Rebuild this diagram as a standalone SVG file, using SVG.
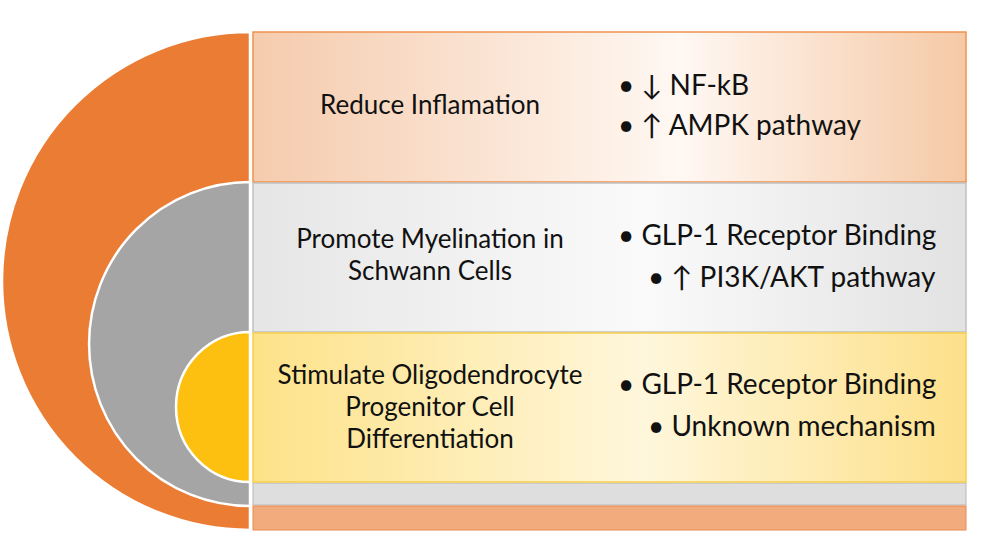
<svg xmlns="http://www.w3.org/2000/svg" width="986" height="552" viewBox="0 0 986 552">
<defs>
<linearGradient id="gO" x1="0" x2="1" y1="0" y2="0"><stop offset="0" stop-color="#f5cbad"/><stop offset="0.6" stop-color="#fff8f3"/><stop offset="1" stop-color="#f5c9a6"/></linearGradient>
<linearGradient id="gG" x1="0" x2="1" y1="0" y2="0"><stop offset="0" stop-color="#e6e6e6"/><stop offset="0.55" stop-color="#fafafa"/><stop offset="1" stop-color="#e2e2e2"/></linearGradient>
<linearGradient id="gY" x1="0" x2="1" y1="0" y2="0"><stop offset="0" stop-color="#fde288"/><stop offset="0.55" stop-color="#fff7dc"/><stop offset="1" stop-color="#fde08a"/></linearGradient>
</defs>
<style>
text{font-family:Lato,"Open Sans","Liberation Sans",sans-serif;font-size:26px;fill:#111}
.c{text-anchor:middle}
.r{font-size:28px}
.disc{stroke:#fff;stroke-width:2.5}
</style>
<rect width="986" height="552" fill="#fff"/>
<g id="discs">
<path class="disc" d="M250,32 A248,249 0 0 0 250,530 Z" fill="#eb7c34"/>
<path class="disc" d="M250,182 A161,162 0 0 0 250,506 Z" fill="#a5a5a5"/>
<path class="disc" d="M250,332 A74,75 0 0 0 250,482 Z" fill="#fdc010"/>
</g>
<g id="strips">
<rect x="253" y="483" width="713" height="22" fill="#dedede" stroke="#b8b8b8"/>
<rect x="253" y="506" width="713" height="24" fill="#f2ab7d" stroke="#eb8a4f"/>
</g>
<g id="node1">
<rect x="253" y="32" width="713" height="150" fill="url(#gO)" stroke="#f0924e" stroke-width="1.5"/>
<text class="c" x="430" y="114">Reduce Inflamation</text>
<text class="r" x="618" y="95">•  ↓ NF-kB</text>
<text class="r" x="618" y="135">•  ↑ AMPK pathway</text>
</g>
<g id="node2">
<rect x="253" y="183" width="713" height="149" fill="url(#gG)" stroke="#c0c0c0" stroke-width="1.5"/>
<text class="c" x="430" y="248">Promote Myelination in</text>
<text class="c" x="430" y="280">Schwann Cells</text>
<text class="r" x="618" y="245">•  GLP-1 Receptor Binding</text>
<text class="r" x="648" y="287">•  ↑ PI3K/AKT pathway</text>
</g>
<g id="node3">
<rect x="253" y="333" width="713" height="149" fill="url(#gY)" stroke="#f7cf4c" stroke-width="1.5"/>
<text class="c" x="430" y="384">Stimulate Oligodendrocyte</text>
<text class="c" x="430" y="416">Progenitor Cell</text>
<text class="c" x="430" y="448">Differentiation</text>
<text class="r" x="618" y="394">•  GLP-1 Receptor Binding</text>
<text class="r" x="648" y="436">•  Unknown mechanism</text>
</g>
<g id="connectors"/>
</svg>
